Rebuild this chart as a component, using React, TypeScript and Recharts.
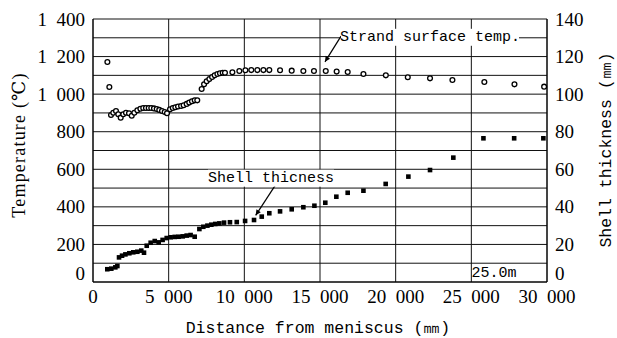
import React from 'react';
import { ScatterChart, Scatter, XAxis, YAxis, CartesianGrid, ReferenceLine, ReferenceDot } from 'recharts';

// strand surface temperature (distance mm, degC)
const tempDistance = [
  950, 1080, 1190, 1340, 1520, 1670, 1830, 2000, 2180, 2380, 2560, 2730, 2930, 3130, 3320, 3500,
  3680, 3850, 4030, 4210, 4380, 4560, 4740, 4890, 5090, 5270, 5440, 5620, 5820, 5990, 6190, 6360,
  6540, 6720, 6890, 7180, 7340, 7510, 7690, 7870, 8040, 8220, 8390, 8570, 8720, 9210, 9670, 10070,
  10460, 10860, 11260, 11650, 12360, 13130, 13900, 14600, 15380, 16100, 16830, 17870, 19350, 20800,
  22270, 23750, 25860, 27850, 29810,
];
const tempValues = [
  1171, 1038, 889, 901, 910, 893, 875, 893, 901, 898, 885, 901, 914, 922, 926, 926,
  926, 926, 924, 921, 916, 910, 905, 898, 919, 926, 930, 934, 937, 941, 948, 955,
  962, 967, 967, 1027, 1052, 1068, 1080, 1091, 1100, 1107, 1111, 1114, 1114, 1116, 1123, 1127,
  1128, 1128, 1128, 1128, 1127, 1125, 1123, 1123, 1123, 1120, 1118, 1107, 1100, 1090,
  1084, 1075, 1065, 1052, 1040,
];

// shell thickness (distance mm, mm)
const shellDistance = [
  945, 1210, 1475, 1610, 1720, 1920, 2140, 2400, 2660, 2930, 3190, 3370, 3550, 3810, 4080, 4340,
  4600, 4870, 5130, 5400, 5660, 5930, 6190, 6450, 6720, 7030, 7290, 7560, 7820, 8080, 8350, 8660,
  9050, 9500, 10050, 10640, 11150, 11650, 12360, 13130, 13900, 14630, 15350, 16080, 16830, 17870,
  19340, 20840, 22270, 23810, 25800, 27830, 29760,
];
const shellValues = [
  6.8, 7.1, 7.8, 8.5, 13.1, 14.0, 14.7, 15.3, 15.8, 16.1, 16.7, 15.6, 19.3, 20.9, 21.8, 21.1,
  22.4, 23.4, 23.8, 24.0, 24.1, 24.3, 24.7, 25.0, 24.1, 28.2, 29.4, 30.0, 30.5, 30.9, 31.2, 31.6,
  31.8, 31.9, 32.5, 33.0, 34.8, 36.6, 37.6, 38.7, 39.8, 40.6, 42.2, 45.4, 47.5, 48.6,
  52.2, 56.1, 59.6, 66.2, 76.5, 76.5, 76.5,
];

const xTicks = [0, 5000, 10000, 15000, 20000, 25000, 30000];
const tempTicks = [0, 100, 200, 300, 400, 500, 600, 700, 800, 900, 1000, 1100, 1200, 1300, 1400];
const shellTicks = [0, 20, 40, 60, 80, 100, 120, 140];

const tempData = tempDistance.map((x, i) => ({ x, y: tempValues[i] }));
const shellData = shellDistance.map((x, i) => ({ x, y: shellValues[i] }));

const serif = '"Liberation Serif", "DejaVu Serif", serif';
const mono = '"Liberation Mono", "DejaVu Sans Mono", monospace';

const fmt = (v: number) => {
  if (v >= 1000) return `${Math.floor(v / 1000)}\u2002${String(v % 1000).padStart(3, '0')}`;
  return `${v}`;
};

// y tick: only every 200 on the temp axis, and the 0 label sits a bit higher
const YTick = (step: number) => (props: any) => {
  const v = props.payload.value;
  if (v % step !== 0) return null;
  const lift = v === 0 ? -9 : 0;
  return (
    <text x={props.x} y={props.y + lift} textAnchor={props.textAnchor} dominantBaseline="central"
      fontFamily={serif} fontSize={19} fill="#000">{fmt(v)}</text>
  );
};

const Circle = (props: any) => (
  <circle cx={props.cx} cy={props.cy} r={2.4} fill="#fff" stroke="#000" strokeWidth={1.3} />
);

const Square = (props: any) => (
  <rect x={props.cx - 2.3} y={props.cy - 2.3} width={4.6} height={4.6} fill="#000" />
);

const Arrow = (props: any) => {
  const { x1, y1, x2, y2 } = props;
  const a = Math.atan2(y2 - y1, x2 - x1);
  const L = 6;
  const w = 0.45;
  const p1 = `${x2},${y2}`;
  const p2 = `${x2 - L * Math.cos(a - w)},${y2 - L * Math.sin(a - w)}`;
  const p3 = `${x2 - L * Math.cos(a + w)},${y2 - L * Math.sin(a + w)}`;
  return (
    <g>
      <line x1={x1} y1={y1} x2={x2} y2={y2} stroke="#000" strokeWidth={1.2} />
      <polygon points={`${p1} ${p2} ${p3}`} fill="#000" />
    </g>
  );
};

const makeLabel = (text: string, w: number, bg = true) => (props: any) => (
  <g>
    {bg && <rect x={props.cx - w / 2} y={props.cy - 9} width={w} height={17} fill="#fff" />}
    <text x={props.cx} y={props.cy} textAnchor="middle" dominantBaseline="central"
      fontFamily={mono} fontSize={15} fill="#000">{text}</text>
  </g>
);

export default function App() {
  return (
    <div style={{ position: 'absolute', left: 0, top: 0, width: 617, height: 338, background: '#fff' }}>
      <ScatterChart width={617} height={338} margin={{ top: 19, right: 0, bottom: 0, left: 0 }}>
        <CartesianGrid yAxisId="temp" stroke="#111" strokeWidth={1} />
        <XAxis dataKey="x" type="number" domain={[0, 30000]} ticks={xTicks} tickFormatter={fmt}
          height={56} tickLine={false} axisLine={{ stroke: '#000' }} interval={0}
          tick={{ fill: '#000', fontSize: 19, fontFamily: serif }} />
        <YAxis yAxisId="temp" dataKey="y" type="number" domain={[0, 1400]} ticks={tempTicks}
          width={93} interval={0} tickLine={false} axisLine={{ stroke: '#000' }} tick={YTick(200)} />
        <YAxis yAxisId="shell" orientation="right" dataKey="y" type="number" domain={[0, 140]}
          ticks={shellTicks} width={70} interval={0} tickLine={false} axisLine={{ stroke: '#000' }}
          tick={YTick(20)} />
        <Scatter yAxisId="temp" data={tempData} shape={Circle} isAnimationActive={false} />
        <Scatter yAxisId="shell" data={shellData} shape={Square} isAnimationActive={false} />
        <ReferenceLine yAxisId="temp" segment={[{ x: 16390, y: 1309 }, { x: 15330, y: 1172 }]} shape={Arrow} />
        <ReferenceLine yAxisId="temp" segment={[{ x: 12030, y: 513 }, { x: 10750, y: 355 }]} shape={Arrow} />
        <ReferenceDot yAxisId="temp" x={22270} y={1300} r={0} shape={makeLabel('Strand surface temp.', 178)} />
        <ReferenceDot yAxisId="temp" x={11760} y={550} r={0} shape={makeLabel('Shell thicness', 126)} />
        <ReferenceDot yAxisId="temp" x={26500} y={45} r={0} shape={makeLabel('25.0m', 44, false)} />
      </ScatterChart>
      <svg width={617} height={338} style={{ position: 'absolute', left: 0, top: 0, pointerEvents: 'none' }}>
        <text x={0} y={0} transform="translate(19,145) rotate(-90)" textAnchor="middle"
          dominantBaseline="central" fontFamily={serif} fontSize={18} letterSpacing={1.2} fill="#000">
          Temperature (℃)
        </text>
        <text x={0} y={0} transform="translate(606,150) rotate(-90)" textAnchor="middle"
          dominantBaseline="central" fontFamily={mono} fontSize={16.5} fill="#000">
          Shell thickness (㎜)
        </text>
        <text x={318} y={328} textAnchor="middle" dominantBaseline="central"
          fontFamily={mono} fontSize={16.5} fill="#000">
          Distance from meniscus (㎜)
        </text>
      </svg>
    </div>
  );
}
